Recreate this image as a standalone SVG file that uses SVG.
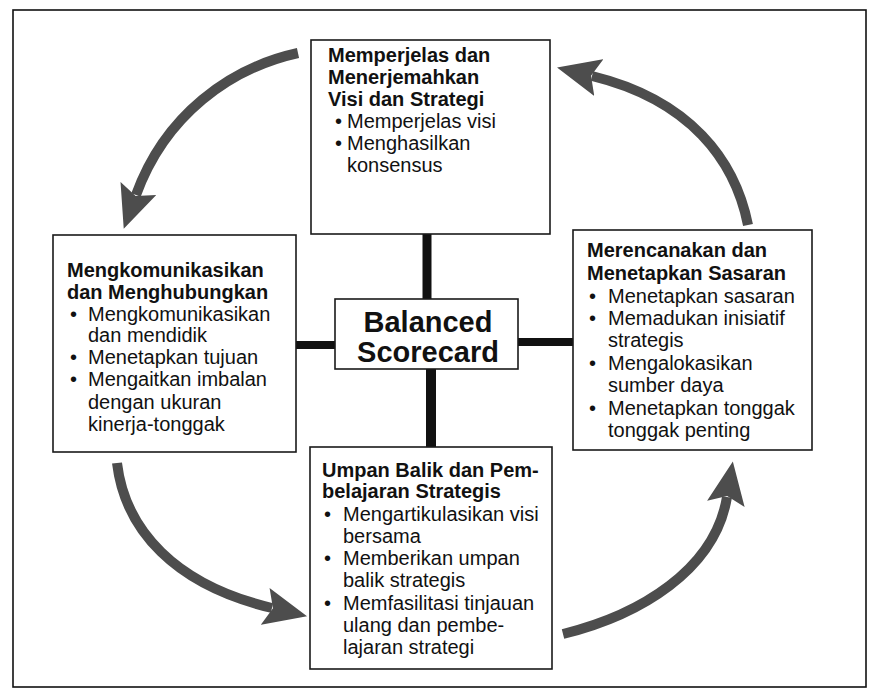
<svg xmlns="http://www.w3.org/2000/svg" width="878" height="696" viewBox="0 0 878 696">
<style>
  text { font-family: "Liberation Sans", Arial, Helvetica, sans-serif; fill: #111; }
  .t { font-size: 20px; font-weight: bold; }
  .b { font-size: 20px; }
  .c { font-size: 29px; font-weight: bold; text-anchor: middle; }
  .box { fill: #fff; stroke: #1a1a1a; stroke-width: 1.6; }
  .bar { stroke: #111; fill: none; }
  .arrow { fill: none; stroke: #4d4d4d; stroke-width: 10; marker-end: url(#head); }
</style>
<defs>
  <marker id="head" markerUnits="userSpaceOnUse" markerWidth="44" markerHeight="40" viewBox="0 0 44 40" refX="7" refY="20" orient="auto">
    <path d="M0,1 L43,20 L0,39 L8,20 Z" fill="#4d4d4d"/>
  </marker>
</defs>
<rect width="878" height="696" fill="#fff"/>
<rect x="13" y="10" width="853" height="677" fill="none" stroke="#111" stroke-width="1.6"/>

<g id="connectors">
  <line class="bar" x1="427" y1="234" x2="427" y2="300" stroke-width="9"/>
  <line class="bar" x1="431" y1="369" x2="431" y2="448" stroke-width="10"/>
  <line class="bar" x1="296" y1="345" x2="336" y2="345" stroke-width="8"/>
  <line class="bar" x1="517" y1="342" x2="574" y2="342" stroke-width="8"/>
  <path class="arrow" d="M298,53 C230,68 165,115 136,195"/>
  <path class="arrow" d="M117,463 C125,530 175,585 272,608"/>
  <path class="arrow" d="M563,634 C640,615 715,570 727,497"/>
  <path class="arrow" d="M748,225 C735,160 690,100 592,76"/>
</g>

<g id="node-top">
  <rect class="box" x="311" y="40" width="239" height="194"/>
  <text class="t" x="328" y="62">Memperjelas dan</text>
  <text class="t" x="328" y="84">Menerjemahkan</text>
  <text class="t" x="328" y="106">Visi dan Strategi</text>
  <text class="b" x="335" y="128">•</text>
  <text class="b" x="347" y="128">Memperjelas visi</text>
  <text class="b" x="335" y="150">•</text>
  <text class="b" x="347" y="150">Menghasilkan</text>
  <text class="b" x="347" y="172">konsensus</text>
</g>

<g id="node-left">
  <rect class="box" x="53" y="235" width="243" height="217"/>
  <text class="t" x="67" y="277">Mengkomunikasikan</text>
  <text class="t" x="67" y="299">dan Menghubungkan</text>
  <text class="b" x="70" y="321">•</text>
  <text class="b" x="88" y="321">Mengkomunikasikan</text>
  <text class="b" x="88" y="342">dan mendidik</text>
  <text class="b" x="70" y="364">•</text>
  <text class="b" x="88" y="364">Menetapkan tujuan</text>
  <text class="b" x="70" y="386">•</text>
  <text class="b" x="88" y="386">Mengaitkan imbalan</text>
  <text class="b" x="88" y="409">dengan ukuran</text>
  <text class="b" x="88" y="431">kinerja-tonggak</text>
</g>

<g id="node-center">
  <rect class="box" x="335" y="299" width="183" height="70"/>
  <text class="c" x="428" y="332">Balanced</text>
  <text class="c" x="428" y="362">Scorecard</text>
</g>

<g id="node-right">
  <rect class="box" x="573" y="230" width="239" height="220"/>
  <text class="t" x="587" y="257">Merencanakan dan</text>
  <text class="t" x="587" y="280">Menetapkan Sasaran</text>
  <text class="b" x="589" y="303">•</text>
  <text class="b" x="608" y="303">Menetapkan sasaran</text>
  <text class="b" x="589" y="325">•</text>
  <text class="b" x="608" y="325">Memadukan inisiatif</text>
  <text class="b" x="608" y="347">strategis</text>
  <text class="b" x="589" y="370">•</text>
  <text class="b" x="608" y="370">Mengalokasikan</text>
  <text class="b" x="608" y="392">sumber daya</text>
  <text class="b" x="589" y="415">•</text>
  <text class="b" x="608" y="415">Menetapkan tonggak</text>
  <text class="b" x="608" y="437">tonggak penting</text>
</g>

<g id="node-bottom">
  <rect class="box" x="310" y="447" width="242" height="222"/>
  <text class="t" x="322" y="477">Umpan Balik dan Pem-</text>
  <text class="t" x="322" y="498">belajaran Strategis</text>
  <text class="b" x="324" y="521">•</text>
  <text class="b" x="343" y="521">Mengartikulasikan visi</text>
  <text class="b" x="343" y="543">bersama</text>
  <text class="b" x="324" y="565">•</text>
  <text class="b" x="343" y="565">Memberikan umpan</text>
  <text class="b" x="343" y="587">balik strategis</text>
  <text class="b" x="324" y="610">•</text>
  <text class="b" x="343" y="610">Memfasilitasi tinjauan</text>
  <text class="b" x="343" y="632">ulang dan pembe-</text>
  <text class="b" x="343" y="654">lajaran strategi</text>
</g>
</svg>
